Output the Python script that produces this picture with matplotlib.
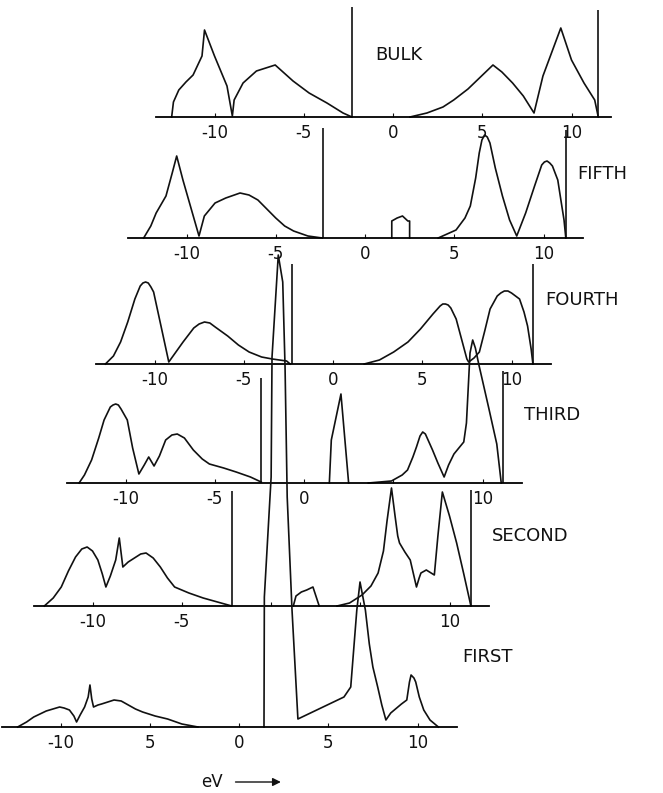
import numpy as np
import matplotlib
matplotlib.use('Agg')
import matplotlib.pyplot as plt

nan = np.nan

# layer densities of states (energy in eV, density in arbitrary units)
e_bulk = [-12.4, -12.3, -12.0, -11.6, -11.2, -10.7, -10.56, -10.0, -9.3, -9.0, -8.9, -8.4, -7.65,
          -6.6, -5.6, -4.7, -3.7, -2.8, -2.3, nan,
          0.95, 1.9, 2.8, 3.4, 4.2, 4.9, 5.6, 6.1, 6.7, 7.3, 7.9, 8.4, 9.4, 10.0, 10.7, 11.3, 11.5]
d_bulk = [0, 15, 27, 35, 42, 61, 87, 61, 31, 1, 17, 34, 46,
          52, 36, 24, 14, 4, 0, nan,
          0, 4, 10, 17, 28, 40, 52, 45, 34, 21, 4, 41, 89, 57, 34, 17, 0]

e_fifth = [-12.4, -12.0, -11.7, -11.15, -10.8, -10.55, -10.2, -9.75, -9.3, -9.0, -8.4, -7.8, -7.0,
           -6.5, -6.0, -5.5, -5.0, -4.5, -4.0, -3.2, -2.4, nan,
           1.5, 1.5, 1.8, 2.1, 2.4, 2.5, 2.5, nan,
           4.1, 5.1, 5.6, 5.9, 6.2, 6.4, 6.55, 6.7, 6.85, 7.0, 7.3, 7.7, 8.1, 8.5,
           9.0, 9.5, 9.9, 10.05, 10.2, 10.35, 10.5, 10.8, 11.0, 11.15, 11.25]
d_fifth = [0, 12, 25, 42, 65, 82, 58, 30, 2, 22, 35, 40, 45,
           43, 38, 29, 20, 12, 7, 2, 0, nan,
           0, 17, 20, 22, 17, 17, 0, nan,
           0, 8, 20, 32, 60, 85, 98, 103, 101, 95, 70, 42, 18, 2,
           25, 52, 73, 76, 77, 75, 72, 58, 35, 18, 0]

e_fourth = [-12.75, -12.3, -11.9, -11.5, -11.1, -10.8, -10.65, -10.5, -10.35, -10.2, -10.05, -9.6,
            -9.2, -8.8, -8.4, -7.8, -7.5, -7.2, -6.9, -6.6, -5.9, -5.3, -4.7, -4.0, -3.4, -2.6,
            -2.4, nan,
            1.75, 2.6, 3.4, 4.2, 4.9, 5.6, 6.0, 6.15, 6.3, 6.45, 6.6, 6.9, 7.2, 7.5, 7.6, 7.9, 8.2,
            8.5, 8.8, 9.2, 9.4, 9.6, 9.8, 10.0, 10.45, 10.7, 10.9, 11.1, 11.2]
d_fourth = [0, 8, 22, 42, 65, 78, 81, 82, 81, 77, 72, 35,
            2, 12, 22, 36, 40, 42, 41, 37, 28, 19, 12, 7, 5, 3,
            0, nan,
            0, 4, 12, 22, 35, 50, 58, 60, 60, 59, 56, 45, 25, 5, 2, 6, 12,
            33, 55, 68, 71, 73, 73, 71, 65, 52, 38, 15, 0]

e_third = [-12.6, -12.3, -11.9, -11.5, -11.2, -10.85, -10.7, -10.55, -10.4, -10.25, -9.9, -9.6,
           -9.25, -8.95, -8.7, -8.4, -8.1, -7.75, -7.4, -7.1, -6.7, -6.2, -5.7, -5.3, -4.5, -3.8,
           -3.0, -2.4, nan,
           1.42, 1.53, 2.07, 2.5, nan,
           3.6, 4.9, 5.5, 5.8, 6.1, 6.3, 6.5, 6.65, 6.8, 6.9, 7.2, 7.5, 7.85, 8.1, 8.4, 8.95,
           9.1, 9.3, 9.45, 9.6, 9.8, 10.35, 10.8, 11.05]
d_third = [0, 8, 23, 45, 63, 76, 78, 79, 78, 74, 63, 35,
           9, 18, 26, 17, 27, 43, 48, 49, 45, 33, 24, 19, 15, 11,
           6, 1, nan,
           0, 43, 89, 0, nan,
           0, 2, 8, 13, 26, 36, 47, 51, 49, 45, 33, 20, 6, 18, 29, 41,
           60, 130, 143, 135, 118, 75, 39, 0]

e_second = [-12.7, -12.2, -11.75, -11.35, -10.95, -10.6, -10.3, -10.0, -9.7, -9.45, -9.25, -9.0,
            -8.7, -8.5, -8.3, -8.0, -7.65, -7.3, -7.0, -6.6, -6.2, -5.8, -5.4, -4.6, -3.8, -3.0,
            -2.2, nan,
            1.25, 1.4, 1.7, 2.0, 2.35, 2.7, nan,
            3.7, 4.4, 5.1, 5.6, 6.0, 6.3, 6.5, 6.75, 6.95, 7.1, 7.2, 7.5, 7.8, 8.15, 8.3, 8.4,
            8.7, 9.15, 9.35, 9.6, 10.0, 10.4, 10.8, 11.2]
d_second = [0, 8, 19, 35, 49, 57, 59, 55, 46, 32, 19, 30,
            46, 68, 39, 44, 48, 52, 53, 48, 39, 28, 19, 13, 8, 4,
            0, nan,
            0, 10, 14, 16, 19, 0, nan,
            0, 3, 11, 20, 33, 55, 85, 118, 90, 70, 63, 54, 46, 19, 28, 33,
            36, 31, 70, 114, 90, 63, 32, 0]

e_first = [-12.4, -11.9, -11.5, -10.8, -10.05, -9.8, -9.5, -9.25, -9.1, -8.9, -8.65, -8.45,
           -8.35, -8.25, -8.15, -7.9, -7.7, -7.0, -6.6, -6.3, -5.8, -5.4, -4.7, -4.0, -3.2, -2.3,
           nan,
           1.40, 1.42, 1.8, 1.85, 2.2, 2.45, 2.58, 2.7, 2.97, 3.3, 5.88, 6.26, 6.6, 6.78, 7.08,
           7.3, 7.5, 7.77, 8.0, 8.23, 8.5, 8.7, 9.1, 9.4, 9.55, 9.64, 9.8, 9.9, 10.1, 10.35,
           10.7, 11.17]
d_first = [0, 5, 10, 16, 20, 19, 17, 11, 5, 12, 20, 30,
           42, 28, 20, 22, 23, 27, 26, 23, 18, 15, 11, 8, 3, 0,
           nan,
           0, 130, 250, 370, 472, 445, 360, 230, 117, 8, 30, 40, 117, 145, 117,
           83, 60, 40, 22, 7, 14, 17, 23, 27, 45, 52, 49, 45, 30, 17,
           7, 0]

# vertical marker lines: (left energy, left height, right energy, right height)
e_marks = {
    'BULK': (-2.3, 110, 11.5, 107),
    'FIFTH': (-2.35, 110, 11.25, 108),
    'FOURTH': (-2.3, 100, 11.2, 100),
    'THIRD': (-2.4, 105, 11.15, 112),
    'SECOND': (-2.2, 115, 11.2, 116),
}

tick_pos = [-10, -5, 0, 5, 10]
labels_full = ['-10', '-5', '0', '5', '10']
labels_third = ['-10', '-5', '0', '', '10']
labels_second = ['-10', '-5', '', '', '10']
labels_first = ['-10', '5', '0', '5', '10']

names = ['BULK', 'FIFTH', 'FOURTH', 'THIRD', 'SECOND', 'FIRST']
energies = [e_bulk, e_fifth, e_fourth, e_third, e_second, e_first]
densities = [d_bulk, d_fifth, d_fourth, d_third, d_second, d_first]
tick_labels = [labels_full, labels_full, labels_full, labels_third, labels_second, labels_first]

# layout in pixels: position of E=0 and of the baseline for every panel
W, H = 663, 793
S = 17.85            # pixels per eV
EMIN, EMAX = -13.3, 12.2
YTOP = 120
zero_x = [393, 365, 333, 304, 271, 239]
base_y = [117, 238, 364, 483, 606, 727]
name_pos = [(-1.0, 62), (11.9, 64), (11.9, 64), (12.3, 68), (12.4, 70), (12.5, 70)]

fig = plt.figure(figsize=(W / 100, H / 100), dpi=100)
fig.patch.set_facecolor('white')


def add_panel(x0, base):
    left = (x0 + EMIN * S) / W
    width = (EMAX - EMIN) * S / W
    bottom = (H - base) / H
    ax = fig.add_axes([left, bottom, width, YTOP / H])
    ax.set_xlim(EMIN, EMAX)
    ax.set_ylim(0, YTOP)
    ax.patch.set_visible(False)
    for side in ['top', 'right', 'left']:
        ax.spines[side].set_visible(False)
    ax.spines['bottom'].set_linewidth(1.3)
    ax.set_yticks([])
    ax.tick_params(axis='x', direction='in', length=3, width=0.8, pad=5,
                   labelsize=12, colors='#111111')
    return ax


ink = '#111111'
for i, name in enumerate(names):
    ax = add_panel(zero_x[i], base_y[i])
    ax.plot(energies[i], densities[i], color=ink, lw=1.2, clip_on=False)
    if name in e_marks:
        el, hl, er, hr = e_marks[name]
        ax.vlines([el, er], 0, [hl, hr], color=ink, lw=1.2, clip_on=False)
    ax.set_xticks(tick_pos, labels=tick_labels[i])
    ax.text(name_pos[i][0], name_pos[i][1], name, fontsize=13, ha='left', va='center',
            color=ink)
    if name == 'FIRST':
        ax.text(-1.5, -55, 'eV', fontsize=12, ha='center', va='center', color=ink,
                clip_on=False)
        ax.annotate('', xy=(2.5, -55), xytext=(-0.35, -55),
                    arrowprops=dict(arrowstyle='-|>', color=ink, lw=1.0, mutation_scale=12),
                    annotation_clip=False)

fig.savefig('out.png', dpi=100, facecolor='white')
